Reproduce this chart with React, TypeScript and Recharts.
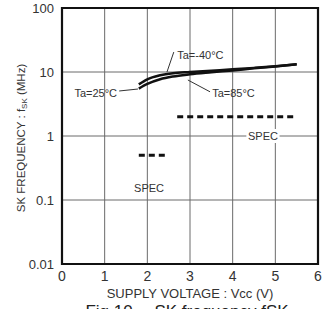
import React from "react";
import {
  ComposedChart, Line, XAxis, YAxis, CartesianGrid,
  ReferenceArea, ReferenceLine, ReferenceDot,
} from "recharts";

// supply voltage (V) vs SK frequency (MHz)
const vccLow = [1.8, 2.0, 2.3, 2.6, 3.0, 3.5, 4.0, 4.5, 5.0, 5.5];
const fskMinus40 = [6.4, 7.7, 8.9, 9.6, 10.0, 10.5, 11.0, 11.6, 12.3, 13.2];
const fsk85 = [5.5, 6.5, 7.7, 8.5, 9.2, 9.9, 10.6, 11.4, 12.2, 13.2];

const specHiX = [2.7, 5.5];
const specHiY = 2;
const specLoX = [1.8, 2.5];
const specLoY = 0.5;

const xTicks = [0, 1, 2, 3, 4, 5, 6];
const yTicks = [0.01, 0.1, 1, 10, 100];

const font = "'Liberation Sans', Arial, sans-serif";
const gridColor = "#6a6a6a";

const curveM40 = vccLow.map((x, i) => ({ x, y: fskMinus40[i] }));
const curve85 = vccLow.map((x, i) => ({ x, y: fsk85[i] }));
const specHi = specHiX.map((x) => ({ x, y: specHiY }));
const specLo = specLoX.map((x) => ({ x, y: specLoY }));

function TextLabel({ viewBox, value, anchor = "start", bg = false }: any) {
  const { x, y } = viewBox;
  const w = value.length * 6.3;
  const left = anchor === "middle" ? x - w / 2 : anchor === "end" ? x - w : x;
  return (
    <g>
      {bg && <rect x={left - 4} y={y - 7} width={w + 8} height={14} fill="#fff" />}
      <text x={x} y={y} dy={4} textAnchor={anchor} fontSize={11} fill="#333" fontFamily={font}>
        {value}
      </text>
    </g>
  );
}

function YLabel({ viewBox }: any) {
  const cx = 21;
  const cy = viewBox.y + viewBox.height / 2 + 2;
  return (
    <text
      x={cx} y={cy} transform={`rotate(-90 ${cx} ${cy})`} textAnchor="middle"
      dy={4} fontSize={11.5} fill="#333" fontFamily={font}
    >
      SK FREQUENCY : f<tspan fontSize={8} dy={2}>SK</tspan><tspan dy={-2}> (MHz)</tspan>
    </text>
  );
}

export default function App() {
  return (
    <div style={{ position: "absolute", left: 0, top: 0, width: 324, height: 309, overflow: "hidden", background: "#fff" }}>
      <ComposedChart width={324} height={309} margin={{ top: 8, right: 6, bottom: 0, left: 0 }}>
        <CartesianGrid stroke={gridColor} strokeWidth={1} />
        <XAxis
          type="number" dataKey="x" domain={[0, 6]} ticks={xTicks} height={45}
          axisLine={false} tickLine={false} tickMargin={1} interval={0}
          tick={{ fontSize: 14, fill: "#333", fontFamily: font }}
          label={{ value: "SUPPLY  VOLTAGE : Vcc (V)", position: "insideBottom", offset: 11, dx: 0, fontSize: 13, fill: "#333", fontFamily: font }}
        />
        <YAxis
          type="number" scale="log" domain={[0.01, 100]} ticks={yTicks} width={62}
          axisLine={false} tickLine={false} tickMargin={2} interval={0}
          allowDataOverflow
          tickFormatter={(v: number) => String(v)}
          tick={{ fontSize: 13, fill: "#333", fontFamily: font }}
          label={<YLabel />}
        />
        <ReferenceArea x1={0} x2={6} y1={0.01} y2={100} fill="none" stroke="#111" strokeWidth={2.2} ifOverflow="visible" />

        {/* leader lines */}
        <ReferenceLine segment={[{ x: 2.62, y: 20.5 }, { x: 2.46, y: 10 }]} stroke="#333" strokeWidth={1} />
        <ReferenceLine segment={[{ x: 1.34, y: 5.05 }, { x: 1.78, y: 5.42 }]} stroke="#333" strokeWidth={1} />
        <ReferenceLine segment={[{ x: 2.95, y: 7.5 }, { x: 3.47, y: 4.9 }]} stroke="#333" strokeWidth={1} />

        <ReferenceDot x={4.71} y={1} r={0} label={<TextLabel value="SPEC" anchor="middle" bg />} />
        <ReferenceDot x={2.04} y={0.155} r={0} label={<TextLabel value="SPEC" anchor="middle" />} />
        <ReferenceDot x={2.7} y={18.5} r={0} label={<TextLabel value="Ta=-40°C" />} />
        <ReferenceDot x={1.29} y={4.7} r={0} label={<TextLabel value="Ta=25°C" anchor="end" />} />
        <ReferenceDot x={3.52} y={4.7} r={0} label={<TextLabel value="Ta=85°C" />} />

        <Line data={specHi} dataKey="y" stroke="#111" strokeWidth={3} strokeDasharray="6 4" dot={false} isAnimationActive={false} />
        <Line data={specLo} dataKey="y" stroke="#111" strokeWidth={3} strokeDasharray="6 4" dot={false} isAnimationActive={false} />
        <Line data={curve85} dataKey="y" type="monotone" stroke="#111" strokeWidth={2.5} dot={false} isAnimationActive={false} />
        <Line data={curveM40} dataKey="y" type="monotone" stroke="#111" strokeWidth={2.5} dot={false} isAnimationActive={false} />
      </ComposedChart>
      <div style={{ position: "absolute", left: 0, width: 324, top: 300, textAlign: "center", fontFamily: font, fontSize: 17, color: "#222", paddingLeft: 50, boxSizing: "border-box", whiteSpace: "nowrap" }}>
        Fig.10 　SK frequency fSK
      </div>
    </div>
  );
}
